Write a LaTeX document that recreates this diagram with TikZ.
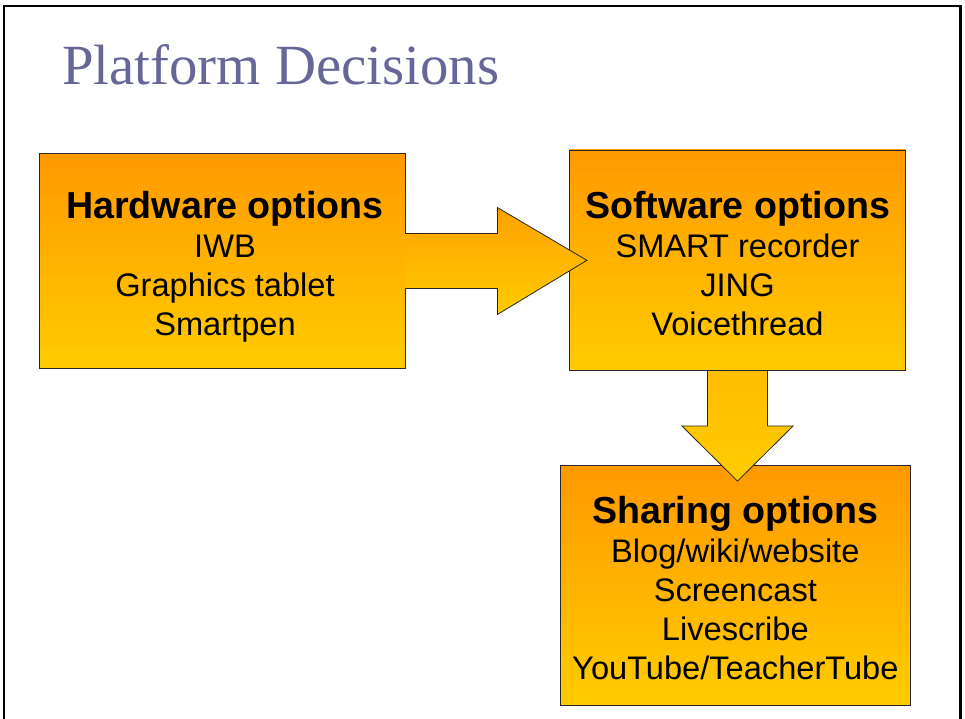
\documentclass[tikz,border=0pt]{standalone}
\usepackage{fontspec}
\setmainfont{Liberation Sans}
\newfontfamily\titlefont{Liberation Serif}
\usetikzlibrary{positioning}
\definecolor{boxtop}{HTML}{FF9900}
\definecolor{boxbottom}{HTML}{FFCC00}
\definecolor{titleblue}{HTML}{666699}

\begin{document}
\begin{tikzpicture}[x=1pt, y=1pt,
  optbox/.style={draw=black!85, line width=0.8pt, top color=boxtop, bottom color=boxbottom, inner sep=0pt},
  optlabel/.style={align=center, inner sep=0pt, font=\fontsize{32.6}{39}\selectfont},
  blockarrow/.style={draw=black!85, line width=0.8pt, line join=miter, top color=boxtop!85!boxbottom, bottom color=boxbottom}]
\useasboundingbox (0,0) rectangle (965,719);
\draw[line width=2.5pt] (4,-5) |- (960.5,713) -- (960.5,-5);
\node[anchor=base west, inner sep=0pt, text=titleblue, font=\titlefont\fontsize{56.8}{60}\selectfont] (title) at (62,634) {Platform Decisions};
\node[optbox, minimum width=366pt, minimum height=215.4pt] (hw) at (222,458) {};
\node[optbox, minimum width=336.4pt, minimum height=220.7pt] (sw) at (737.5,458.65) {};
\node[optbox, minimum width=350.7pt, minimum height=239.3pt] (sh) at (735.35,133.65) {};
\node[optlabel, below=38.5pt of hw.north, xshift=3pt] (hwtext) {{\fontsize{37.6}{39}\selectfont\bfseries Hardware options}\\IWB\\Graphics tablet\\Smartpen};
\node[optlabel, below=41.5pt of sw.north] (swtext) {{\fontsize{37.6}{39}\selectfont\bfseries Software options}\\SMART recorder\\JING\\Voicethread};
\node[optlabel, below=31pt of sh.north] (shtext) {{\fontsize{37.6}{39}\selectfont\bfseries Sharing options}\\Blog/wiki/website\\Screencast\\Livescribe\\YouTube/TeacherTube};
\draw[blockarrow] ([yshift=27.5]hw.east) -- ++(92,0) -- ++(0,26) -- ([xshift=18]sw.west) -- ([xshift=92,yshift=-53.5]hw.east) -- ++(0,26) -- ([yshift=-27.5]hw.east);
\draw[blockarrow, top color=boxtop!30!boxbottom] ([xshift=-30]sw.south) -- ++(0,-55) -- ++(-25.5,0) -- ([yshift=-110]sw.south) -- ([xshift=55.5,yshift=-55]sw.south) -- ++(-25.5,0) -- ([xshift=30]sw.south);
\end{tikzpicture}
\end{document}
